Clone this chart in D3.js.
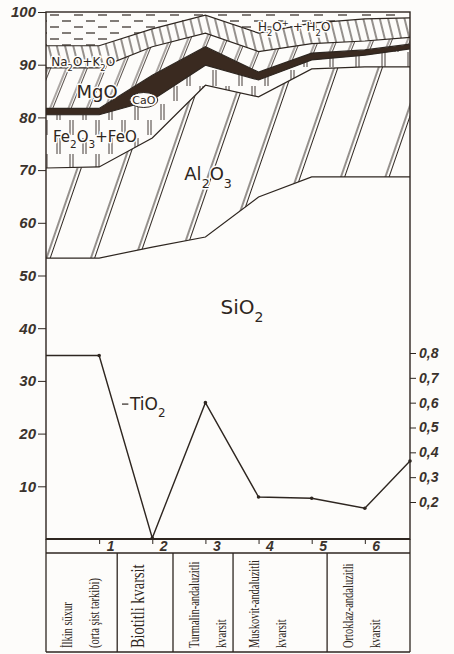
<!DOCTYPE html>
<html>
<head>
<meta charset="utf-8">
<script src="https://cdn.jsdelivr.net/npm/d3@7"></script>
<style>
  body { margin: 0; background: #fdfcfa; }
  svg { display: block; }
  .lbl { font-family: 'DejaVu Sans', sans-serif; fill: #2e2620; paint-order: stroke; stroke: #fdfcfa; stroke-width: 3px; stroke-linejoin: round; }
  .axis text { font-family: 'Liberation Sans', sans-serif; font-style: italic; font-weight: bold; fill: #3a322c; }
  .axis line { stroke: #2e2620; }
</style>
</head>
<body>
<svg id="chart" width="454" height="654"></svg>
<script>
// sample columns (0 = left edge, 6.85 = right edge)
const positions = [0, 1, 2, 3, 4, 5, 6, 6.85]
// oxide contents, %
const sio2 = [53.3, 53.3, 55.4, 57.3, 64.9, 68.7, 68.7, 68.7]
const al2o3 = [17.1, 17.3, 20.7, 28.8, 19.0, 20.5, 20.9, 20.9]
const fe2o3FeO = [10.1, 9.9, 7.2, 3.8, 3.2, 1.7, 2.2, 3.4]
const cao = [1.2, 1.2, 4.7, 3.5, 1.5, 1.3, 1.0, 0.9]
const mgo = [7.7, 7.7, 5.4, 2.6, 3.9, 1.8, 1.7, 1.3]
const na2oK2o = [4.2, 4.2, 3.4, 3.4, 3.5, 3.9, 4.2, 3.7]
const h2o = [6.4, 6.4, 3.2, 0.6, 4.0, 2.1, 1.3, 1.1]
// TiO2, % (right scale)
const tio2 = [0.79, 0.79, 0.055, 0.6, 0.22, 0.215, 0.175, 0.365]

const leftTicks = [10, 20, 30, 40, 50, 60, 70, 80, 90, 100]
const rightTicks = [0.2, 0.3, 0.4, 0.5, 0.6, 0.7, 0.8]
const sampleTicks = [1, 2, 3, 4, 5, 6]
const rockBounds = [0, 1.34, 2.39, 3.52, 5.29, 6.85]
const rockNames = [
  ['İlkin süxur', '(orta şist tərkibi)'],
  ['Biotitli kvarsit'],
  ['Turmalin-andaluzitli', 'kvarsit'],
  ['Muskovit-andaluzitli', 'kvarsit'],
  ['Ortoklaz-andaluzitli', 'kvarsit']
]

const ink = '#2e2620'
const paper = '#fdfcfa'
const plotLeft = 46
const plotRight = 410
const plotTop = 12
const plotBase = 539
const tableTop = 553
const tableBottom = 652

const x = d3.scaleLinear().domain([0, 6.85]).range([plotLeft, plotRight])
const y = d3.scaleLinear().domain([0, 100]).range([plotBase, plotTop])
const yR = d3.scaleLinear().domain([0.2, 0.8]).range([502, 353])

const svg = d3.select('#chart')
const defs = svg.append('defs')

/**
 * pattern of lines in a tile
 */
function addPattern (id, w, h, rot, lines, width) {
  const p = defs.append('pattern')
    .attr('id', id)
    .attr('patternUnits', 'userSpaceOnUse')
    .attr('width', w)
    .attr('height', h)
    .attr('patternTransform', `rotate(${rot})`)
  p.append('rect').attr('width', w).attr('height', h).attr('fill', paper)
  lines.forEach(l => {
    p.append('line')
      .attr('x1', l[0]).attr('y1', l[1]).attr('x2', l[2]).attr('y2', l[3])
      .attr('stroke', ink).attr('stroke-width', width)
  })
}

addPattern('pAl', 42, 42, 19, [[2, 0, 2, 42], [5.5, 0, 5.5, 42]], 1)
addPattern('pMg', 17, 40, 22, [[2, 0, 2, 40], [4.5, 0, 4.5, 40]], 0.8)
addPattern('pFe', 26, 34, 0, [[5, 2, 5, 18], [8, 2, 8, 18], [18, 18, 18, 33], [21, 18, 21, 33]], 0.9)
addPattern('pNa', 8, 20, -14, [[4, 0, 4, 20]], 1)
addPattern('pH2O', 24, 12, 0, [[2, 3, 11, 3], [14, 9, 23, 9]], 1.2)

const keys = ['SiO2', 'Al2O3', 'Fe2O3FeO', 'CaO', 'MgO', 'Na2OK2O', 'H2O']
const fills = {
  SiO2: paper,
  Al2O3: 'url(#pAl)',
  Fe2O3FeO: 'url(#pFe)',
  CaO: '#3a2a20',
  MgO: 'url(#pMg)',
  Na2OK2O: 'url(#pNa)',
  H2O: 'url(#pH2O)'
}

const rows = positions.map((p, i) => ({
  pos: p,
  SiO2: sio2[i],
  Al2O3: al2o3[i],
  Fe2O3FeO: fe2o3FeO[i],
  CaO: cao[i],
  MgO: mgo[i],
  Na2OK2O: na2oK2o[i],
  H2O: h2o[i]
}))

const series = d3.stack().keys(keys)(rows)

const area = d3.area()
  .x(d => x(d.data.pos))
  .y0(d => y(d[0]))
  .y1(d => y(d[1]))

const topLine = d3.line()
  .x(d => x(d.data.pos))
  .y(d => y(d[1]))

svg.append('g')
  .selectAll('path')
  .data(series)
  .join('path')
  .attr('d', area)
  .attr('fill', d => fills[d.key])

svg.append('g')
  .selectAll('path')
  .data(series.slice(0, -1))
  .join('path')
  .attr('d', topLine)
  .attr('fill', 'none')
  .attr('stroke', ink)
  .attr('stroke-width', 1.2)

// TiO2 curve
const tiLine = d3.line()
  .x((d, i) => x(positions[i]))
  .y(d => yR(d))

svg.append('path')
  .datum(tio2)
  .attr('d', tiLine)
  .attr('fill', 'none')
  .attr('stroke', ink)
  .attr('stroke-width', 1.4)

svg.append('g')
  .selectAll('circle')
  .data(tio2.slice(1))
  .join('circle')
  .attr('cx', (d, i) => x(positions[i + 1]))
  .attr('cy', d => yR(d))
  .attr('r', 1.8)
  .attr('fill', ink)

// frame
svg.append('rect')
  .attr('x', plotLeft).attr('y', plotTop)
  .attr('width', plotRight - plotLeft).attr('height', plotBase - plotTop)
  .attr('fill', 'none').attr('stroke', ink).attr('stroke-width', 1.4)

svg.append('line')
  .attr('x1', plotLeft).attr('x2', plotRight).attr('y1', plotBase).attr('y2', plotBase)
  .attr('stroke', ink).attr('stroke-width', 2)

// axes
const yAxis = svg.append('g')
  .attr('class', 'axis')
  .attr('transform', `translate(${plotLeft},0)`)
  .call(d3.axisLeft(y).tickValues(leftTicks).tickSize(8).tickPadding(2))
yAxis.select('.domain').remove()
yAxis.selectAll('text').attr('font-size', 15)

const rAxis = svg.append('g')
  .attr('class', 'axis')
  .attr('transform', `translate(${plotRight},0)`)
  .call(d3.axisRight(yR).tickValues(rightTicks).tickSize(6).tickPadding(3)
    .tickFormat(d => d3.format('.1f')(d).replace('.', ',')))
rAxis.select('.domain').remove()
rAxis.selectAll('text').attr('font-size', 14).attr('font-weight', 'normal')

const xAxis = svg.append('g')
  .attr('class', 'axis')
  .attr('transform', `translate(0,${plotBase})`)
  .call(d3.axisBottom(x).tickValues(sampleTicks).tickSize(5).tickFormat(d3.format('d')))
xAxis.select('.domain').remove()
xAxis.selectAll('text')
  .attr('font-size', 14)
  .attr('font-weight', 'normal')
  .attr('x', 7)
  .attr('y', 2)
  .attr('text-anchor', 'start')

// table of rock types
const table = svg.append('g')
  .attr('stroke', ink)
  .attr('stroke-width', 1.3)
table.append('line').attr('x1', plotLeft).attr('x2', plotRight).attr('y1', tableTop).attr('y2', tableTop)
table.append('line').attr('x1', plotLeft).attr('x2', plotRight).attr('y1', tableBottom).attr('y2', tableBottom)
table.selectAll('.cell')
  .data(rockBounds)
  .join('line')
  .attr('class', 'cell')
  .attr('x1', d => x(d)).attr('x2', d => x(d))
  .attr('y1', (d, i) => (i === 0 || i === rockBounds.length - 1) ? plotBase : tableTop)
  .attr('y2', tableBottom)

rockNames.forEach((lines, i) => {
  lines.forEach((t, j) => {
    const single = lines.length === 1
    svg.append('text')
      .attr('transform', `translate(${x(rockBounds[i]) + 21 + j * 27},${tableBottom - 4}) rotate(-90) scale(${single ? 0.8 : 0.7},1)`)
      .attr('dominant-baseline', 'central')
      .style('font-family', "'Liberation Serif', serif")
      .style('font-size', single ? '18px' : '15px')
      .style('fill', ink)
      .text(t)
  })
})

// layer labels
/**
 * chemical formula with subscripts and superscripts
 */
function formula (px, py, parts, size, anchor) {
  const t = svg.append('text')
    .attr('class', 'lbl')
    .attr('x', px)
    .attr('y', py)
    .attr('text-anchor', anchor || 'middle')
    .style('font-size', size + 'px')
  parts.forEach(p => {
    const s = t.append('tspan')
    if (p[0] === '_') {
      s.text(p.slice(1)).style('baseline-shift', 'sub').style('font-size', (size * 0.7) + 'px')
    } else if (p[0] === '^') {
      s.text(p.slice(1)).style('baseline-shift', 'super').style('font-size', (size * 0.7) + 'px')
    } else {
      s.text(p)
    }
  })
  return t
}

formula(x(3.69), y(42.7), ['SiO', '_2'], 20)
formula(x(3.05), y(68.1), ['Al', '_2', 'O', '_3'], 18)
formula(x(0.92), y(75.3), ['Fe', '_2', 'O', '_3', '+FeO'], 15)
formula(x(0.96), y(83.7), ['MgO'], 18)
formula(x(0.70), y(89.8), ['Na', '_2', 'O+K', '_2', 'O'], 12)
formula(x(4.67), y(96.4), ['H', '_2', 'O', '^+', ' + H', '_2', 'O'], 12)

svg.append('ellipse')
  .attr('cx', x(1.84)).attr('cy', y(83.3))
  .attr('rx', 14).attr('ry', 7.5)
  .attr('fill', paper).attr('stroke', ink).attr('stroke-width', 1)
formula(x(1.84), y(83.3) + 4, ['CaO'], 11)

svg.append('line')
  .attr('x1', x(1.43)).attr('x2', x(1.55))
  .attr('y1', y(25.6)).attr('y2', y(25.6))
  .attr('stroke', ink).attr('stroke-width', 1.2)
formula(x(1.58), y(24.5), ['TiO', '_2'], 17, 'start')
</script>
</body>
</html>
